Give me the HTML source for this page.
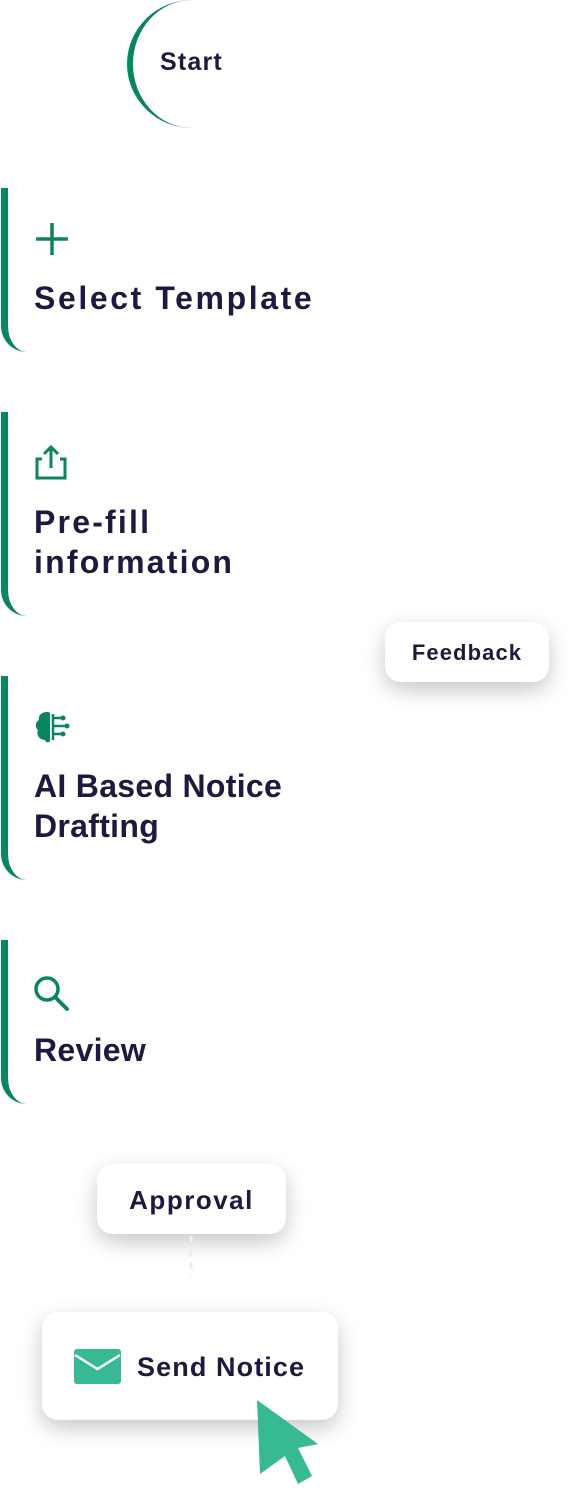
<!DOCTYPE html>
<html><head><style>
body{margin:0;width:583px;height:1488px;background:#fff;position:relative;overflow:hidden;font-family:"Liberation Sans",sans-serif;color:#22183f;font-weight:bold}
.a{position:absolute}
.card{position:absolute;left:1px;width:320px;border-left:7px solid #0a8562;border-bottom-left-radius:26px;}
.card .t{position:absolute;left:26px;font-size:32px;line-height:40px;white-space:nowrap}
.pill{position:absolute;background:#fff;border-radius:16px;box-shadow:0 8px 22px rgba(0,0,0,.22);text-align:center}
</style></head><body>
<div class="a" style="left:127px;top:0;width:130px;height:128px;border-left:6px solid #0a8562;border-radius:50%;box-sizing:border-box"></div>
<div class="a" style="left:160px;top:48px;font-size:25px;letter-spacing:1.2px">Start</div>

<div class="card" style="top:188px;height:164px">
 <svg class="a" style="left:26px;top:33px" width="36" height="36"><path d="M18 2V34M2 18H34" stroke="#0a8562" stroke-width="3.5"/></svg>
 <div class="t" style="top:90px;letter-spacing:2.6px">Select Template</div>
</div>

<div class="card" style="top:412px;height:204px">
 <svg class="a" style="left:25px;top:32px" width="38" height="38"><path d="M9 15H4V34H32V15H27M18 24V3M11 10L18 3L25 10" fill="none" stroke="#0a8562" stroke-width="3"/></svg>
 <div class="t" style="top:90px;letter-spacing:2.2px">Pre-fill<br>information</div>
</div>

<div class="card" style="top:676px;height:204px">
 <svg class="a" style="left:25px;top:34px" width="38" height="36"><path d="M14 2C8 2 5 6 6 10C2 12 2 18 5 20C3 24 6 30 12 30C13 33 16 33 17 31V3C16 2 15 2 14 2Z" fill="#0a8562"/><path d="M20 8H28M20 16H32M20 24H28M20 4V30" stroke="#0a8562" stroke-width="2.5"/><circle cx="30" cy="8" r="2.5" fill="#0a8562"/><circle cx="34" cy="16" r="2.5" fill="#0a8562"/><circle cx="30" cy="24" r="2.5" fill="#0a8562"/></svg>
 <div class="t" style="top:90px;letter-spacing:0.3px">AI Based Notice<br>Drafting</div>
</div>

<div class="card" style="top:940px;height:164px">
 <svg class="a" style="left:24px;top:34px" width="40" height="40"><circle cx="15" cy="15" r="11" fill="none" stroke="#0a8562" stroke-width="3.5"/><path d="M23 23L35 35" stroke="#0a8562" stroke-width="4" stroke-linecap="round"/></svg>
 <div class="t" style="top:90px;letter-spacing:0.3px">Review</div>
</div>

<div class="pill" style="left:385px;top:622px;width:164px;height:60px;line-height:62px;font-size:22px;letter-spacing:1.1px">Feedback</div>
<div class="pill" style="left:97px;top:1164px;width:189px;height:70px;line-height:72px;font-size:26px;letter-spacing:1.5px">Approval</div>
<svg class="a" style="left:188px;top:1236px" width="6" height="40"><path d="M3 0V40" stroke="#eee" stroke-width="3" stroke-dasharray="7 6"/></svg>
<div class="pill" style="left:42px;top:1312px;width:296px;height:108px"></div>
<svg class="a" style="left:74px;top:1349px" width="48" height="36"><rect x="0" y="0" width="47" height="35" rx="3" fill="#37b993"/><path d="M1 6L23.5 20L46 6" fill="none" stroke="#fff" stroke-width="2.5"/></svg>
<div class="a" style="left:137px;top:1352px;font-size:27px;letter-spacing:1.1px">Send Notice</div>
<svg class="a" style="left:255px;top:1398px" width="70" height="90"><path d="M2 2L63 46L43 50L57 78L43 86L30 58L5 76Z" fill="#37b993"/></svg>
</body></html>
